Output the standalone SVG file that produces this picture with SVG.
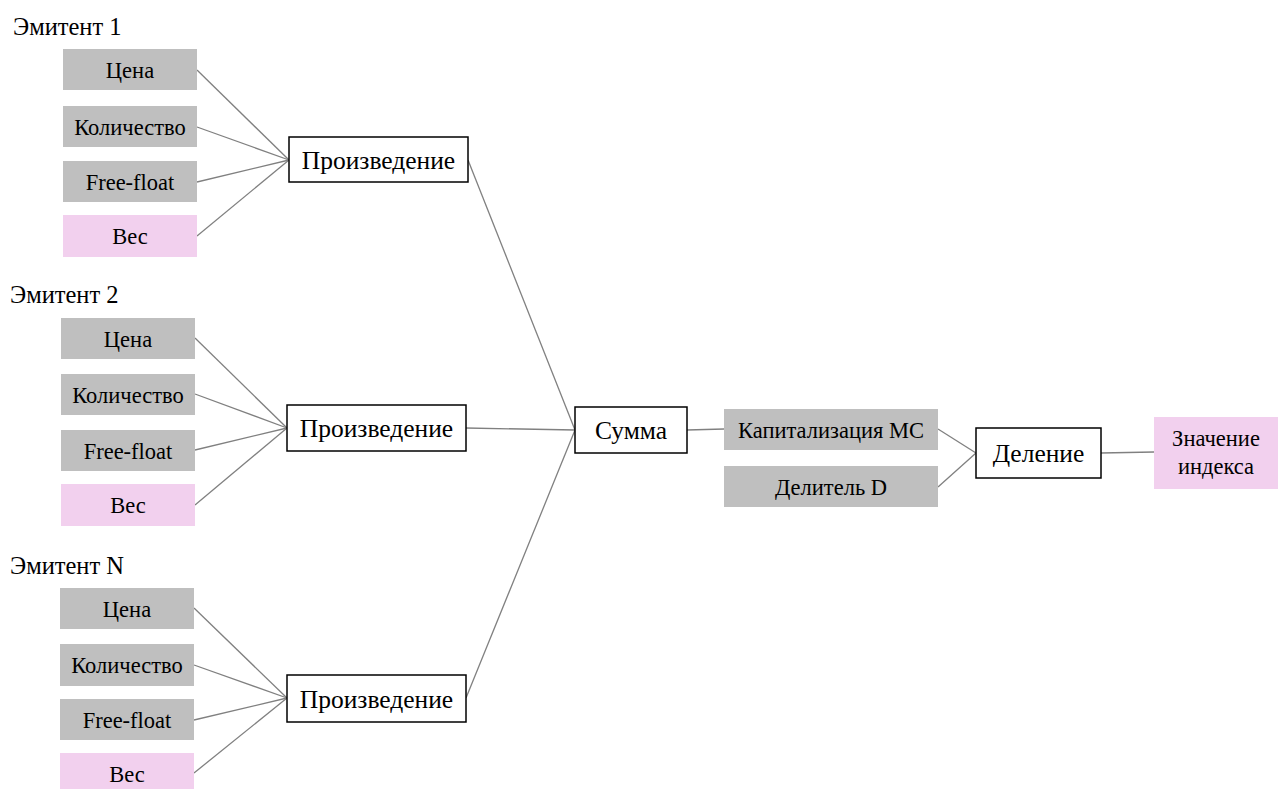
<svg xmlns="http://www.w3.org/2000/svg" width="1278" height="789" viewBox="0 0 1278 789" font-family="'Liberation Serif', 'Times New Roman', serif">
<style>
text{font-family:'Liberation Serif', 'Times New Roman', serif;fill:#000;}
.in{fill:#bfbfbf;}
.w{fill:#f2d0ee;}
.op{fill:#fff;stroke:#000;stroke-width:1.5;}
.t{font-size:22.5px;text-anchor:middle;}
.tb{font-size:25.5px;text-anchor:middle;}
.h{font-size:24.5px;}
.c line{stroke:#808080;stroke-width:1.3;}
</style>
<rect width="1278" height="789" fill="#fff"/>
<g class="c" id="connectors">
<line x1="197" y1="70" x2="289" y2="160"/>
<line x1="197" y1="127" x2="289" y2="160"/>
<line x1="197" y1="182" x2="289" y2="160"/>
<line x1="197" y1="236" x2="289" y2="160"/>
<line x1="195" y1="338" x2="287" y2="428"/>
<line x1="195" y1="394" x2="287" y2="428"/>
<line x1="195" y1="450" x2="287" y2="428"/>
<line x1="195" y1="505" x2="287" y2="428"/>
<line x1="194" y1="608" x2="287" y2="698"/>
<line x1="194" y1="665" x2="287" y2="698"/>
<line x1="194" y1="720" x2="287" y2="698"/>
<line x1="194" y1="773" x2="287" y2="698"/>
<line x1="468" y1="160" x2="575" y2="430"/>
<line x1="466" y1="428" x2="575" y2="430"/>
<line x1="466" y1="698" x2="575" y2="430"/>
<line x1="687" y1="430" x2="724" y2="429"/>
<line x1="938" y1="429" x2="976" y2="453"/>
<line x1="938" y1="487" x2="976" y2="453"/>
<line x1="1101" y1="453" x2="1154" y2="452"/>
</g>
<text class="h" x="13" y="35">Эмитент 1</text>
<text class="h" x="10" y="303">Эмитент 2</text>
<text class="h" x="10" y="574">Эмитент N</text>
<g id="e1-price"><rect class="in" x="63" y="49" width="134" height="41"/><text class="t" x="130" y="78">Цена</text></g>
<g id="e1-qty"><rect class="in" x="63" y="106" width="134" height="41"/><text class="t" x="130" y="135">Количество</text></g>
<g id="e1-ff"><rect class="in" x="63" y="161" width="134" height="41"/><text class="t" x="130" y="190">Free-float</text></g>
<g id="e1-w"><rect class="w" x="63" y="215" width="134" height="42"/><text class="t" x="130" y="244">Вес</text></g>
<g id="e1-prod"><rect class="op" x="289" y="137" width="179" height="45"/><text class="tb" x="378.5" y="169">Произведение</text></g>
<g id="e2-price"><rect class="in" x="61" y="318" width="134" height="41"/><text class="t" x="128" y="347">Цена</text></g>
<g id="e2-qty"><rect class="in" x="61" y="374" width="134" height="41"/><text class="t" x="128" y="403">Количество</text></g>
<g id="e2-ff"><rect class="in" x="61" y="430" width="134" height="41"/><text class="t" x="128" y="459">Free-float</text></g>
<g id="e2-w"><rect class="w" x="61" y="484" width="134" height="42"/><text class="t" x="128" y="513">Вес</text></g>
<g id="e2-prod"><rect class="op" x="287" y="405" width="179" height="46"/><text class="tb" x="376.5" y="437">Произведение</text></g>
<g id="e3-price"><rect class="in" x="60" y="588" width="134" height="41"/><text class="t" x="127" y="617">Цена</text></g>
<g id="e3-qty"><rect class="in" x="60" y="644" width="134" height="42"/><text class="t" x="127" y="673">Количество</text></g>
<g id="e3-ff"><rect class="in" x="60" y="699" width="134" height="41"/><text class="t" x="127" y="728">Free-float</text></g>
<g id="e3-w"><rect class="w" x="60" y="753" width="134" height="42"/><text class="t" x="127" y="782">Вес</text></g>
<g id="e3-prod"><rect class="op" x="287" y="675" width="179" height="47"/><text class="tb" x="376.5" y="708">Произведение</text></g>
<g id="sum"><rect class="op" x="575" y="407" width="112" height="46"/><text class="tb" x="631" y="439">Сумма</text></g>
<g id="cap"><rect class="in" x="724" y="409" width="214" height="41"/><text class="t" x="831" y="438">Капитализация MC</text></g>
<g id="div"><rect class="in" x="724" y="466" width="214" height="41"/><text class="t" x="831" y="495">Делитель D</text></g>
<g id="divop"><rect class="op" x="976" y="428" width="125" height="50"/><text class="tb" x="1038.5" y="462">Деление</text></g>
<g id="result"><rect class="w" x="1154" y="417" width="124" height="72"/><text class="t" x="1216" y="446">Значение</text><text class="t" x="1216" y="474">индекса</text></g>
</svg>
